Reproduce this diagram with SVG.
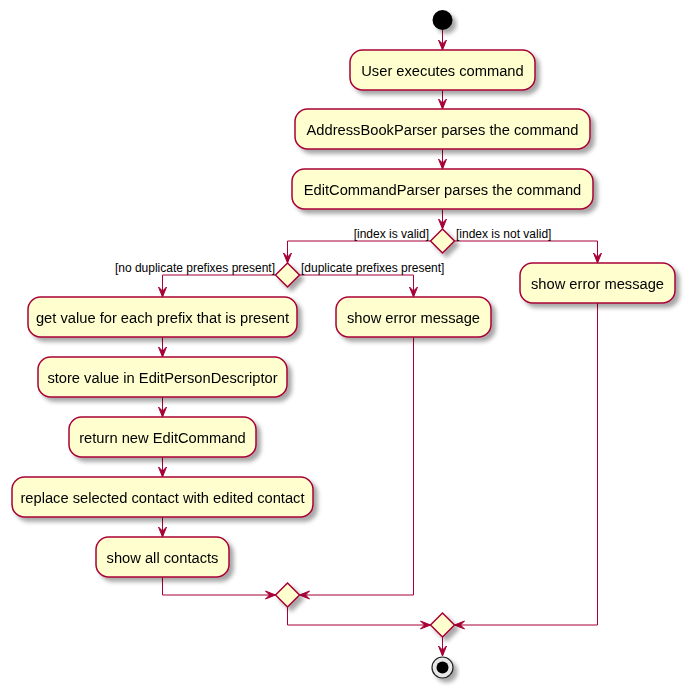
<svg xmlns="http://www.w3.org/2000/svg" width="691" height="695" viewBox="0 0 691 695">
  <defs>
    <filter id="shadow" x="-20%" y="-20%" width="150%" height="160%">
      <feGaussianBlur in="SourceAlpha" stdDeviation="2"/>
      <feOffset dx="4" dy="4" result="blur"/>
      <feFlood flood-color="#000" flood-opacity="0.35"/>
      <feComposite in2="blur" operator="in" result="sh"/>
      <feMerge>
        <feMergeNode in="sh"/>
        <feMergeNode in="SourceGraphic"/>
      </feMerge>
    </filter>
    <marker id="arrow" markerUnits="userSpaceOnUse" markerWidth="12" markerHeight="10" viewBox="-11 -5 12 10" refX="0" refY="0" orient="auto" overflow="visible">
      <path d="M0,0 L-10,-4 L-6,0 L-10,4 Z" fill="#A80036" stroke="#A80036" stroke-width="1"/>
    </marker>
  </defs>
  <style>
    .act rect { fill: #FEFECE; stroke: #A80036; stroke-width: 1.5; }
    .act text { font-family: "Liberation Sans", Arial, sans-serif; font-size: 14.7px; fill: #000; text-anchor: middle; }
    .dec polygon { fill: #FEFECE; stroke: #A80036; stroke-width: 1.5; }
    .edge { fill: none; stroke: #A80036; stroke-width: 1; }
    .arr { marker-end: url(#arrow); }
    .lbl { font-family: "Liberation Sans", Arial, sans-serif; font-size: 12px; fill: #000; }
  </style>
  <rect width="691" height="695" fill="#fff"/>

  <!-- connectors -->
  <g id="connectors">
    <path class="edge arr" d="M442.5,30 V50"/>
    <path class="edge arr" d="M442.5,90 V109"/>
    <path class="edge arr" d="M442.5,149 V169"/>
    <path class="edge arr" d="M442.5,209 V229"/>
    <path class="edge arr" d="M430.5,241 H287.5 V263"/>
    <path class="edge arr" d="M454.5,241 H597.5 V263"/>
    <path class="edge arr" d="M275.5,275 H162.5 V297"/>
    <path class="edge arr" d="M299.5,275 H413.5 V297"/>
    <path class="edge arr" d="M162.5,337 V357"/>
    <path class="edge arr" d="M162.5,397 V417"/>
    <path class="edge arr" d="M162.5,457 V477"/>
    <path class="edge arr" d="M162.5,517 V537"/>
    <path class="edge arr" d="M162.5,577 V595 H275.5"/>
    <path class="edge arr" d="M413.5,337 V595 H299.5"/>
    <path class="edge arr" d="M287.5,607 V625 H430.5"/>
    <path class="edge arr" d="M597.5,303 V625 H454.5"/>
    <path class="edge arr" d="M442.5,637 V656"/>
    <text class="lbl" x="429" y="238" text-anchor="end">[index is valid]</text>
    <text class="lbl" x="456" y="238">[index is not valid]</text>
    <text class="lbl" x="275" y="272" text-anchor="end">[no duplicate prefixes present]</text>
    <text class="lbl" x="301" y="272">[duplicate prefixes present]</text>
  </g>

  <!-- start -->
  <g id="start" filter="url(#shadow)">
    <circle cx="442.5" cy="20" r="10" fill="#000"/>
  </g>

  <!-- actions -->
  <g id="user-executes" class="act" filter="url(#shadow)">
    <rect x="350" y="50" width="185" height="40" rx="12.5"/>
    <text x="442.5" y="76">User executes command</text>
  </g>
  <g id="addressbook-parser" class="act" filter="url(#shadow)">
    <rect x="295" y="109" width="295" height="40" rx="12.5"/>
    <text x="442.5" y="135">AddressBookParser parses the command</text>
  </g>
  <g id="editcommand-parser" class="act" filter="url(#shadow)">
    <rect x="292" y="169" width="301" height="40" rx="12.5"/>
    <text x="442.5" y="195">EditCommandParser parses the command</text>
  </g>

  <g id="index-check" class="dec" filter="url(#shadow)">
    <polygon points="442.5,229 454.5,241 442.5,253 430.5,241"/>
  </g>
  <g id="error-index" class="act" filter="url(#shadow)">
    <rect x="520" y="263" width="155" height="40" rx="12.5"/>
    <text x="597.5" y="289">show error message</text>
  </g>

  <g id="prefix-check" class="dec" filter="url(#shadow)">
    <polygon points="287.5,263 299.5,275 287.5,287 275.5,275"/>
  </g>
  <g id="error-prefix" class="act" filter="url(#shadow)">
    <rect x="336" y="297" width="155" height="40" rx="12.5"/>
    <text x="413.5" y="323">show error message</text>
  </g>

  <g id="get-values" class="act" filter="url(#shadow)">
    <rect x="28" y="297" width="269" height="40" rx="12.5"/>
    <text x="162.5" y="323">get value for each prefix that is present</text>
  </g>
  <g id="store-values" class="act" filter="url(#shadow)">
    <rect x="38" y="357" width="249" height="40" rx="12.5"/>
    <text x="162.5" y="383">store value in EditPersonDescriptor</text>
  </g>
  <g id="return-command" class="act" filter="url(#shadow)">
    <rect x="69" y="417" width="187" height="40" rx="12.5"/>
    <text x="162.5" y="443">return new EditCommand</text>
  </g>
  <g id="replace-contact" class="act" filter="url(#shadow)">
    <rect x="12" y="477" width="301" height="40" rx="12.5"/>
    <text x="162.5" y="503">replace selected contact with edited contact</text>
  </g>
  <g id="show-all" class="act" filter="url(#shadow)">
    <rect x="96" y="537" width="133" height="40" rx="12.5"/>
    <text x="162.5" y="563">show all contacts</text>
  </g>

  <g id="merge-prefix" class="dec" filter="url(#shadow)">
    <polygon points="287.5,583 299.5,595 287.5,607 275.5,595"/>
  </g>
  <g id="merge-index" class="dec" filter="url(#shadow)">
    <polygon points="442.5,613 454.5,625 442.5,637 430.5,625"/>
  </g>

  <!-- end -->
  <g id="end" filter="url(#shadow)">
    <circle cx="442.5" cy="667.5" r="10.5" fill="#e8e8e8" stroke="#222" stroke-width="1.2"/>
    <circle cx="442.5" cy="667.5" r="6" fill="#000"/>
  </g>
</svg>
